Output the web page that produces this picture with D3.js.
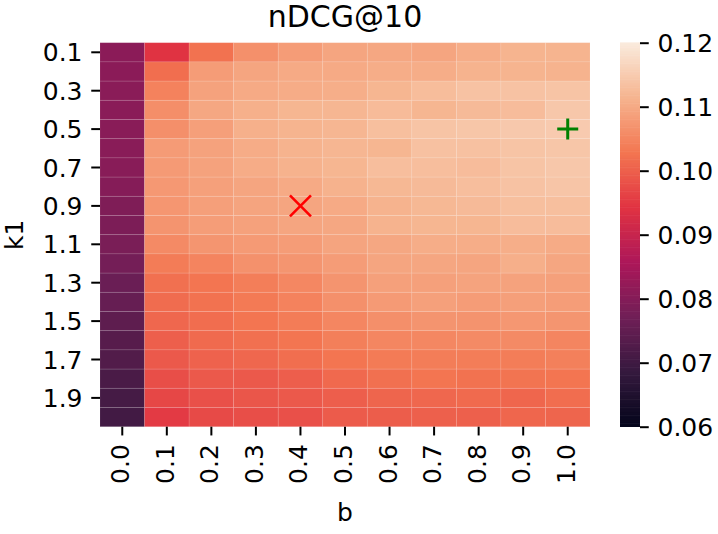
<!DOCTYPE html>
<html>
<head>
<meta charset="utf-8">
<script src="https://cdn.jsdelivr.net/npm/d3@7"></script>
<style>
  html, body { margin: 0; padding: 0; background: #fff; }
  svg { display: block; font-family: "DejaVu Sans", sans-serif; }
</style>
</head>
<body>
<svg id="chart" width="718" height="534"></svg>
<script>
// ---- data ----
const bValues = ["0.0","0.1","0.2","0.3","0.4","0.5","0.6","0.7","0.8","0.9","1.0"];
const k1Values = ["0.1","0.2","0.3","0.4","0.5","0.6","0.7","0.8","0.9","1.0",
                  "1.1","1.2","1.3","1.4","1.5","1.6","1.7","1.8","1.9","2.0"];
const k1TickLabels = ["0.1","0.3","0.5","0.7","0.9","1.1","1.3","1.5","1.7","1.9"];
const colorbarTicks = [0.06, 0.07, 0.08, 0.09, 0.10, 0.11, 0.12];
const colorDomain = [0.06, 0.12];
// nDCG@10, one row per k1, one column per b
const ndcg = [
  [0.0809, 0.0942, 0.1023, 0.1064, 0.1081, 0.1094, 0.1096, 0.1093, 0.1104, 0.1114, 0.1114],
  [0.0809, 0.1018, 0.1081, 0.1093, 0.1100, 0.1101, 0.1104, 0.1104, 0.1113, 0.1114, 0.1113],
  [0.0808, 0.1045, 0.1089, 0.1100, 0.1103, 0.1106, 0.1117, 0.1128, 0.1136, 0.1136, 0.1139],
  [0.0808, 0.1062, 0.1097, 0.1109, 0.1117, 0.1118, 0.1125, 0.1117, 0.1124, 0.1127, 0.1144],
  [0.0807, 0.1063, 0.1085, 0.1109, 0.1114, 0.1118, 0.1131, 0.1139, 0.1142, 0.1146, 0.1149],
  [0.0806, 0.1080, 0.1090, 0.1103, 0.1113, 0.1118, 0.1117, 0.1134, 0.1134, 0.1139, 0.1142],
  [0.0805, 0.1078, 0.1090, 0.1103, 0.1111, 0.1117, 0.1130, 0.1130, 0.1127, 0.1139, 0.1144],
  [0.0801, 0.1075, 0.1086, 0.1094, 0.1101, 0.1112, 0.1120, 0.1124, 0.1130, 0.1136, 0.1141],
  [0.0792, 0.1073, 0.1085, 0.1092, 0.1094, 0.1100, 0.1113, 0.1120, 0.1124, 0.1131, 0.1131],
  [0.0788, 0.1070, 0.1082, 0.1088, 0.1093, 0.1097, 0.1113, 0.1117, 0.1117, 0.1127, 0.1127],
  [0.0786, 0.1056, 0.1071, 0.1078, 0.1081, 0.1092, 0.1097, 0.1104, 0.1104, 0.1106, 0.1102],
  [0.0777, 0.1037, 0.1048, 0.1066, 0.1071, 0.1081, 0.1093, 0.1095, 0.1093, 0.1108, 0.1095],
  [0.0763, 0.1021, 0.1027, 0.1039, 0.1052, 0.1070, 0.1086, 0.1086, 0.1091, 0.1089, 0.1086],
  [0.0757, 0.1016, 0.1023, 0.1034, 0.1045, 0.1064, 0.1078, 0.1086, 0.1081, 0.1085, 0.1082],
  [0.0745, 0.1010, 0.1017, 0.1027, 0.1037, 0.1051, 0.1063, 0.1070, 0.1069, 0.1074, 0.1071],
  [0.0735, 0.0999, 0.1013, 0.1021, 0.1027, 0.1041, 0.1051, 0.1052, 0.1056, 0.1056, 0.1049],
  [0.0728, 0.0992, 0.1003, 0.1009, 0.1018, 0.1027, 0.1035, 0.1038, 0.1038, 0.1038, 0.1042],
  [0.0716, 0.0977, 0.0992, 0.0992, 0.0998, 0.1012, 0.1021, 0.1027, 0.1023, 0.1026, 0.1027],
  [0.0709, 0.0968, 0.0980, 0.0987, 0.0992, 0.0998, 0.1007, 0.1010, 0.1013, 0.1008, 0.1017],
  [0.0705, 0.0952, 0.0972, 0.0977, 0.0980, 0.0994, 0.0996, 0.1001, 0.1001, 0.1008, 0.1007]
];
const bestPoint = { b: "1.0", k1: "0.5" };    // green plus
const defaultPoint = { b: "0.4", k1: "0.9" }; // red cross
const titleText = "nDCG@10";
const xLabel = "b";
const yLabel = "k1";

// ---- rocket colormap ----
const rocketStops = ["#03051a","#35193e","#701f57","#ad1759","#e13342","#f37651","#f6b48f","#faebdd"];
const rocket = d3.piecewise(d3.interpolateRgb, rocketStops);
const color = d3.scaleSequential(rocket).domain(colorDomain).clamp(true);

// ---- layout ----
const svg = d3.select("#chart");
const L = 100, R = 590, T = 42.7, B = 426.7;
const FS = 25;
const tickLen = 8.75, tickPad = 8.75;

const x = d3.scaleBand().domain(bValues).range([L, R]).paddingInner(0).paddingOuter(0);
const y = d3.scaleBand().domain(k1Values).range([T, B]).paddingInner(0).paddingOuter(0);

// cells
const cells = [];
ndcg.forEach((row, i) => row.forEach((v, j) => cells.push({ k1: k1Values[i], b: bValues[j], v })));
svg.append("g").selectAll("rect").data(cells).join("rect")
  .attr("x", d => x(d.b))
  .attr("y", d => y(d.k1))
  .attr("width", x.bandwidth())
  .attr("height", y.bandwidth())
  .attr("fill", d => color(d.v))
  .attr("stroke", "#ffffff")
  .attr("stroke-opacity", 0.12)
  .attr("stroke-width", 0.8);

// markers
const crossR = 10.5;
const dx = x(defaultPoint.b) + x.bandwidth() / 2, dy = y(defaultPoint.k1) + y.bandwidth() / 2;
svg.append("path")
  .attr("d", `M${dx - crossR},${dy - crossR}L${dx + crossR},${dy + crossR}M${dx - crossR},${dy + crossR}L${dx + crossR},${dy - crossR}`)
  .attr("stroke", "#ff0000").attr("stroke-width", 2.6).attr("fill", "none");
const px = x(bestPoint.b) + x.bandwidth() / 2, py = y(bestPoint.k1) + y.bandwidth() / 2;
svg.append("path")
  .attr("d", `M${px - crossR},${py}L${px + crossR},${py}M${px},${py - crossR}L${px},${py + crossR}`)
  .attr("stroke", "#008000").attr("stroke-width", 3).attr("fill", "none");

// y axis
const yAxis = svg.append("g").attr("transform", `translate(${L},0)`)
  .call(d3.axisLeft(y).tickValues(k1TickLabels).tickSize(tickLen).tickPadding(tickPad));
yAxis.select(".domain").remove();
yAxis.selectAll(".tick line").attr("stroke", "#000").attr("stroke-width", 2);
yAxis.selectAll(".tick text").attr("font-size", FS).attr("fill", "#000")
  .attr("font-family", "DejaVu Sans").attr("dy", "0.36em");

// x axis
const xAxis = svg.append("g").attr("transform", `translate(0,${B})`)
  .call(d3.axisBottom(x).tickSize(tickLen).tickPadding(tickPad));
xAxis.select(".domain").remove();
xAxis.selectAll(".tick line").attr("stroke", "#000").attr("stroke-width", 2);
xAxis.selectAll(".tick text")
  .attr("font-size", FS).attr("fill", "#000").attr("font-family", "DejaVu Sans")
  .attr("x", 0).attr("y", 0).attr("dy", "0.28em")
  .attr("text-anchor", "end")
  .attr("transform", `translate(0,${tickLen + tickPad}) rotate(-90)`);

// title and axis labels
svg.append("text").attr("x", (L + R) / 2).attr("y", 27).attr("text-anchor", "middle")
  .attr("font-size", 30).attr("fill", "#000").text(titleText);
svg.append("text").attr("x", (L + R) / 2).attr("y", 521).attr("text-anchor", "middle")
  .attr("font-size", FS).attr("fill", "#000").text(xLabel);
svg.append("text").attr("transform", `translate(22.5,${(T + B) / 2}) rotate(-90)`)
  .attr("text-anchor", "middle").attr("font-size", FS).attr("fill", "#000").text(yLabel);

// colorbar
const cbL = 620, cbW = 20;
const cy = d3.scaleLinear().domain(colorDomain).range([B, T]);
const nBands = 240;
const bandVals = d3.range(nBands).map(i => colorDomain[0] + (i + 0.5) * (colorDomain[1] - colorDomain[0]) / nBands);
const bandH = (B - T) / nBands;
svg.append("g").selectAll("rect").data(bandVals).join("rect")
  .attr("x", cbL).attr("width", cbW)
  .attr("y", d => cy(d) - bandH / 2 - 0.3)
  .attr("height", bandH + 0.6)
  .attr("fill", d => color(d));
const cAxis = svg.append("g").attr("transform", `translate(${cbL + cbW},0)`)
  .call(d3.axisRight(cy).tickValues(colorbarTicks).tickFormat(d3.format(".2f")).tickSize(tickLen).tickPadding(tickPad));
cAxis.select(".domain").remove();
cAxis.selectAll(".tick line").attr("stroke", "#000").attr("stroke-width", 2);
cAxis.selectAll(".tick text").attr("font-size", FS).attr("fill", "#000")
  .attr("font-family", "DejaVu Sans").attr("dy", "0.36em");
</script>
</body>
</html>
